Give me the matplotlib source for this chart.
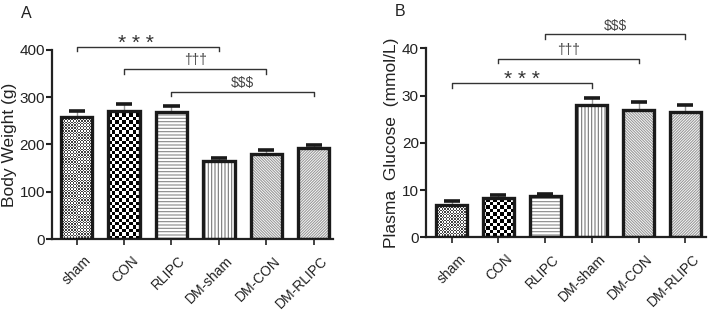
import numpy as np
import matplotlib
matplotlib.use("Agg")
from matplotlib import pyplot as plt
from matplotlib import transforms

plt.rcParams['font.family'] = ['Liberation Sans', 'DejaVu Sans']
plt.rcParams['hatch.linewidth'] = 0.8

# Dados
grupos = ["sham", "CON", "RLIPC", "DM-sham", "DM-CON", "DM-RLIPC"]
peso = [259, 271, 269, 164, 180, 192]
peso_erro = [12, 15, 12, 8, 8, 6]
glicose = [6.9, 8.25, 8.75, 28.0, 26.9, 26.6]
glicose_erro = [0.8, 0.65, 0.45, 1.5, 1.8, 1.5]

# Comparações: (grupo inicial, grupo final, altura, texto, deslocamento do texto)
sig_peso = [(0, 3, 407, "* * *", -0.25), (1, 4, 360, "†††", 0), (2, 5, 312, "$$$", 0)]
sig_glicose = [(0, 3, 32.7, "* * *", 0), (1, 4, 37.8, "†††", 0), (2, 5, 43.0, "$$$", 0)]

hachuras = [None, None, "-----", "|||||", "\\" * 12, "/" * 12]
cor_hachura = ["#444444", "#000000", "#888888", "#777777", "#999999", "#999999"]
xadrez = {0: 1.4, 1: 3.4}   # tamanho da casa em pixels


def checker(ax, barra, casa_px, cor):
    # xadrez recortado dentro da barra
    x0, w, h = barra.get_x(), barra.get_width(), barra.get_height()
    p0 = ax.transData.transform((x0, 0))
    p1 = ax.transData.transform((x0 + w, h))
    nx = max(1, int(round((p1[0] - p0[0]) / casa_px)))
    ny = max(1, int(round((p1[1] - p0[1]) / casa_px)))
    img = (np.add.outer(np.arange(ny), np.arange(nx)) % 2).astype(float)
    im = ax.imshow(img, extent=(x0, x0 + w, 0, h), cmap=matplotlib.colors.ListedColormap(["white", cor]),
                   interpolation="nearest", aspect="auto", zorder=1)
    im.set_clip_path(barra)


def painel(ax, valores, erros, sig, ymax, passo, ylabel, letra, xlim):
    x = np.arange(len(grupos))
    ax.set_xlim(*xlim)
    ax.set_ylim(0, ymax)
    for i in range(len(grupos)):
        b = ax.bar(x[i], valores[i], width=0.66, color="white", edgecolor=cor_hachura[i],
                   hatch=hachuras[i], linewidth=0, zorder=1)[0]
        if i in xadrez:
            checker(ax, b, xadrez[i], cor_hachura[i])
        ax.bar(x[i], valores[i], width=0.66, fill=False, edgecolor="#1a1a1a", linewidth=2.4, zorder=3)
    ax.errorbar(x, valores, yerr=[np.zeros(len(erros)), erros], fmt="none", ecolor="#999999",
                elinewidth=1.0, capsize=0, zorder=2)
    # tampas pretas e grossas
    for i in range(len(grupos)):
        ax.plot([x[i] - 0.17, x[i] + 0.17], [valores[i] + erros[i]] * 2, color="#1a1a1a",
                lw=2.6, solid_capstyle="butt", zorder=4)

    tick = ymax * 0.025
    for a, b, h, txt, dx in sig:
        ax.plot([x[a], x[a], x[b], x[b]], [h - tick, h, h, h - tick], color="#333333",
                lw=1.0, clip_on=False)
        xm = (x[a] + x[b]) / 2 + dx
        if txt.startswith("*"):
            ax.text(xm, h - ymax * 0.035, txt, ha="center", va="bottom", fontsize=15,
                    color="#333333", clip_on=False)
        else:
            ax.text(xm, h + ymax * 0.008, txt, ha="center", va="bottom", fontsize=10,
                    color="#444444", clip_on=False)

    ax.set_yticks(np.arange(0, ymax + 1e-9, passo))
    ax.set_xticks(x)
    ax.set_xticklabels([])
    # rótulos do eixo x deslocados como no original
    trans = transforms.offset_copy(ax.get_xaxis_transform(), fig=ax.figure, x=5, y=-10.5, units="points")
    for i in range(len(grupos)):
        ax.text(x[i], 0, grupos[i], transform=trans, rotation=45, ha="right", va="top",
                rotation_mode="anchor", fontsize=10, color="#222222")
    ax.tick_params(axis="y", labelsize=11, width=1.5, length=4, pad=1, colors="#222222")
    ax.tick_params(axis="x", width=1.2, length=4, colors="#222222")
    for s in ["top", "right"]:
        ax.spines[s].set_visible(False)
    for s in ["left", "bottom"]:
        ax.spines[s].set_linewidth(1.6)
        ax.spines[s].set_color("#222222")
    ax.set_ylabel(ylabel, fontsize=12.5, color="#222222", labelpad=2)
    ax.text(-0.11, 1.17, letra, transform=ax.transAxes, fontsize=11.5, color="#222222")


fig = plt.figure(figsize=(7.11, 3.10), dpi=100)
ax1 = fig.add_axes([0.073, 0.229, 0.395, 0.610])
ax2 = fig.add_axes([0.599, 0.2345, 0.394, 0.6095])

fig.canvas.draw()
painel(ax1, peso, peso_erro, sig_peso, 400, 100, "Body Weight (g)", "A", (-0.52, 5.4))
painel(ax2, glicose, glicose_erro, sig_glicose, 40, 10, "Plasma  Glucose  (mmol/L)", "B", (-0.55, 5.44))

plt.savefig("out.png", dpi=100)
